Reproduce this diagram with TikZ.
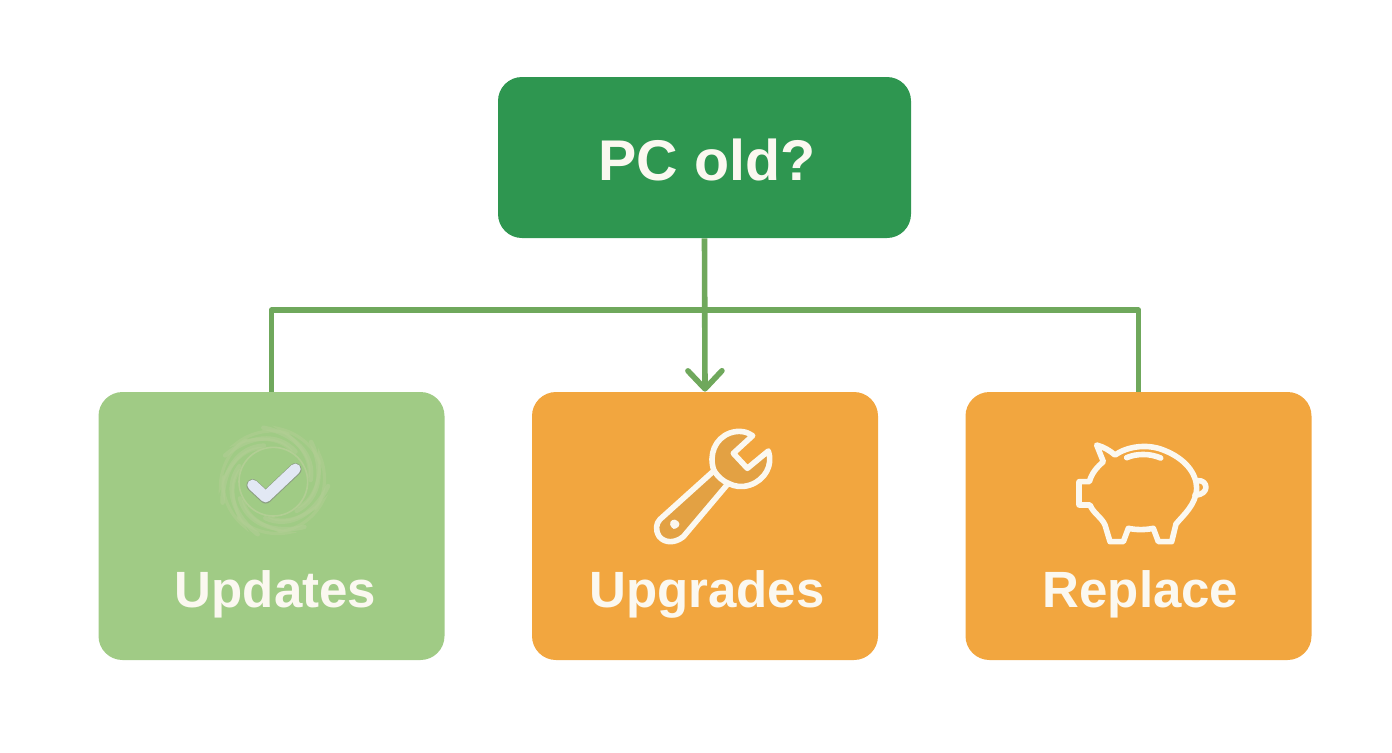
\documentclass[tikz,border=0pt]{standalone}
\usepackage{fontspec}
\setmainfont{Liberation Sans}
\usetikzlibrary{arrows.meta}
\definecolor{topgreen}{HTML}{2E9650}
\definecolor{lightgreen}{HTML}{A0CB85}
\definecolor{boxorange}{HTML}{F2A63F}
\definecolor{linegreen}{HTML}{6FA85C}
\definecolor{iconorange}{HTML}{E3A143}
\definecolor{swirlgreen}{HTML}{B2CE94}
\definecolor{tickblue}{HTML}{E2E8F4}
\definecolor{textwhite}{HTML}{FBF8F0}
\tikzset{
  box/.style={rounded corners=12pt, inner sep=0pt, minimum width=173pt, minimum height=134pt},
  title/.style={text=textwhite, font=\fontsize{25.5}{30}\selectfont\bfseries, inner sep=0pt, anchor=base},
  wire/.style={draw=linegreen, line width=2.8pt, line join=round},
  icon/.style={draw=textwhite, line width=2.8pt, line join=round, line cap=round},
}
\begin{document}
\begin{tikzpicture}[x=.5pt, y=-.5pt, >={Straight Barb[length=9pt,width=17pt,round]}]
\useasboundingbox (0,0) rectangle (1392,752);
\node(Top)[box, fill=topgreen, minimum width=206.5pt, minimum height=80.5pt] at (704.5,157.5){};
\node(Updates)[box, fill=lightgreen] at (271.5,526){};
\node(Upgrades)[box, fill=boxorange] at (705,526){};
\node(Replace)[box, fill=boxorange] at (1138.5,526){};
\node(TopText)[title, font=\fontsize{28.7}{36}\selectfont\bfseries] at (707,180){PC old?};
\node(UpdatesText)[title] at (275.5,607){Updates};
\node(UpgradesText)[title] at (707,607){Upgrades};
\node(ReplaceText)[title] at (1140.5,607){Replace};
\coordinate(Bus) at (704.5,310);
\draw[wire](Updates.north)|-(Bus)-|(Replace.north);
\draw[wire,->](Top.south)--(Upgrades.north);
% swirl and tick
\begin{scope}[shift={(190,410)}, x=.5pt/3, y=-.5pt/3]
\draw[swirlgreen, line width=.8pt](250,215) circle (103);
\foreach \a in {0,51,...,310}{
  \begin{scope}[shift={(250,215)}, rotate=\a]
  \draw[swirlgreen, line width=2.2pt, opacity=.6, line cap=round](112,-5) .. controls (125,-85) and (60,-145) .. (-30,-162);
  \draw[swirlgreen, line width=1.6pt, opacity=.5, line cap=round](105,-15) .. controls (118,-70) and (70,-125) .. (20,-158) .. controls (60,-150) and (120,-115) .. (140,-55);
  \end{scope}
}
\draw[line width=6.2pt, draw=gray!60!lightgreen, line cap=round, line join=round](188,226)--(227,262)--(316,178);
\draw[line width=5.4pt, draw=tickblue, line cap=round, line join=round](188,225)--(227,261)--(316,177);
\end{scope}
% wrench
\begin{scope}[shift={(640,340)}, x=.5pt/3, y=-.5pt/3]
\draw[icon, fill=iconorange](222,392) .. controls (205,345) and (225,295) .. (270,279)
  .. controls (295,270) and (320,274) .. (338,287) -- (280,340) -- (322,385) -- (385,333)
  .. controls (400,375) and (375,420) .. (330,435) .. controls (305,443) and (285,440) .. (265,430)
  -- (130,590) .. controls (105,610) and (75,610) .. (58,590) .. controls (45,570) and (48,550) .. (60,538) -- cycle;
\draw[draw=textwhite, line width=2.8pt](222,392) .. controls (235,412) and (250,424) .. (265,430);
\fill[textwhite, rounded corners=1.5pt](88,545) -- (105,536) -- (122,552) -- (108,568) -- (94,565) -- cycle;
\end{scope}
% pig
\begin{scope}[shift={(1060,430)}, x=.5pt/3, y=-.5pt/3]
\draw[icon](57,155) -- (88,155) .. controls (95,130) and (110,112) .. (130,95) -- (110,45)
  .. controls (130,50) and (150,62) .. (165,75) .. controls (200,50) and (260,40) .. (310,60)
  .. controls (375,85) and (410,130) .. (410,175) .. controls (408,225) and (370,255) .. (348,282)
  -- (335,335) -- (295,335) -- (280,295) .. controls (255,300) and (230,300) .. (205,295)
  -- (190,335) -- (150,335) -- (135,285) .. controls (125,262) and (100,250) .. (90,225) -- (57,225) -- cycle;
\draw[icon](412,152) .. controls (445,148) and (450,195) .. (405,195);
\draw[icon](200,83) .. controls (230,70) and (270,70) .. (302,84);
\end{scope}
\end{tikzpicture}
\end{document}
